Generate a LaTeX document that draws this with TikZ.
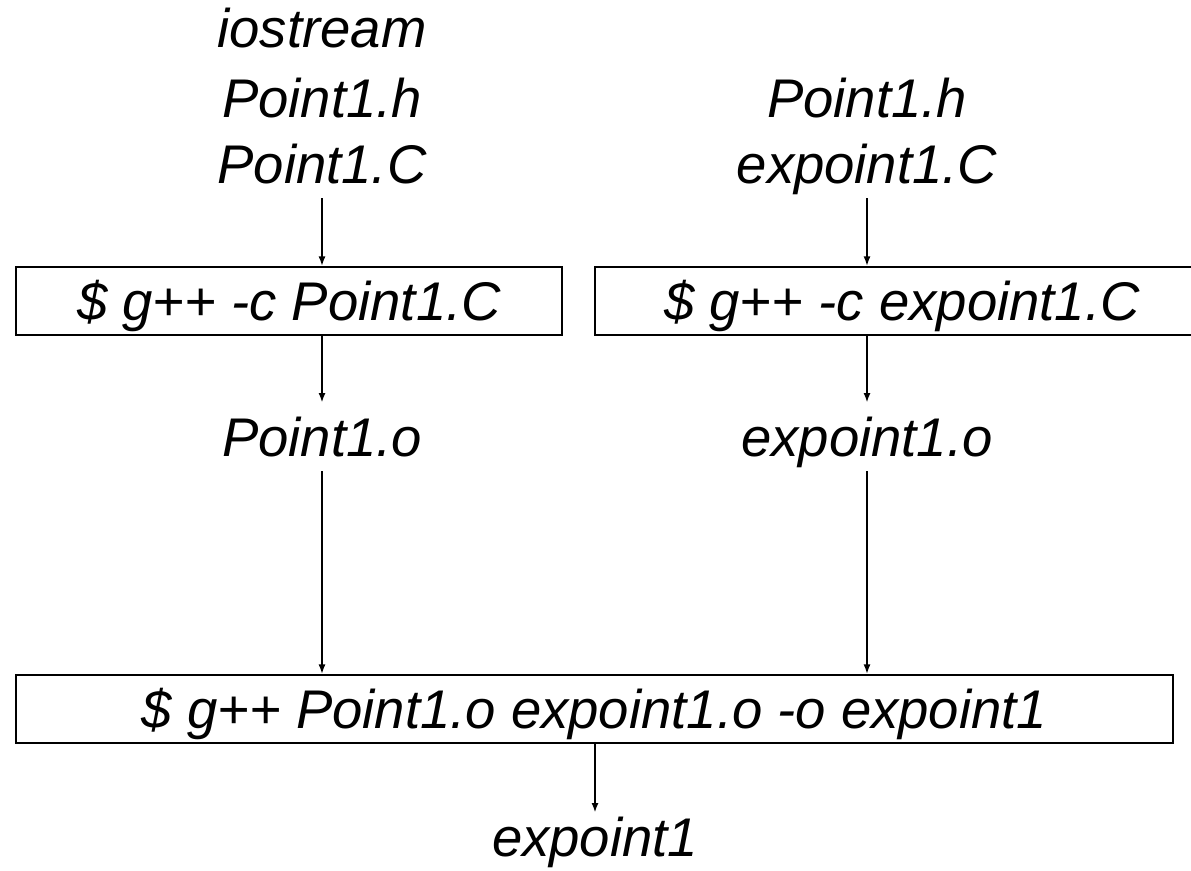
\documentclass[tikz,border=0pt]{standalone}
\usepackage{fontspec}
\setmainfont{Liberation Sans}
\usetikzlibrary{positioning,arrows.meta}

\begin{document}
\begin{tikzpicture}[x=0.02cm, y=-0.02cm,
    every node/.style={font=\itshape\fontsize{31}{37}\selectfont},
    file/.style={inner sep=0.3cm, text height=0.76cm, text depth=0pt, anchor=base},
    cmd/.style={draw, line width=1.1pt, inner xsep=0pt, inner ysep=0pt,
        text height=0.76cm, text depth=0pt, minimum height=1.36cm},
    flow/.style={-{Latex[length=5.5pt,width=4pt]}, line width=1pt}]
    \useasboundingbox (0,0) rectangle (1191,870);

    % Source files
    \node[file] (io)  at (322,47)  {iostream};
    \node[file] (hL)  at (322,117) {Point1.h};
    \node[file] (srcL) at (322,183) {Point1.C};
    \node[file] (hR)  at (867,117) {Point1.h};
    \node[file] (srcR) at (867,183) {expoint1.C};

    % Compile steps
    \node[cmd, minimum width=10.92cm] (compL) at (289,301) {\$ g++ -c Point1.C};
    \node[cmd, minimum width=12.28cm] (compR) at (902,301) {\$ g++ -c expoint1.C};

    % Object files
    \node[file] (objL) at (322,456) {Point1.o};
    \node[file] (objR) at (867,456) {expoint1.o};

    % Link step
    \node[cmd, minimum width=23.14cm] (link) at (594.5,709) {\$ g++ Point1.o expoint1.o -o expoint1};

    % Executable
    \node[file, inner ysep=0.1cm] (exe) at (595,856) {expoint1};

    % Arrows
    \draw[flow] (srcL.south) -- (srcL.south |- compL.north);
    \draw[flow] (srcR.south) -- (srcR.south |- compR.north);
    \draw[flow] (objL.north |- compL.south) -- (objL.north);
    \draw[flow] (objR.north |- compR.south) -- (objR.north);
    \draw[flow] (objL.south) -- (objL.south |- link.north);
    \draw[flow] (objR.south) -- (objR.south |- link.north);
    \draw[flow] (exe.north |- link.south) -- (exe.north);
\end{tikzpicture}
\end{document}
